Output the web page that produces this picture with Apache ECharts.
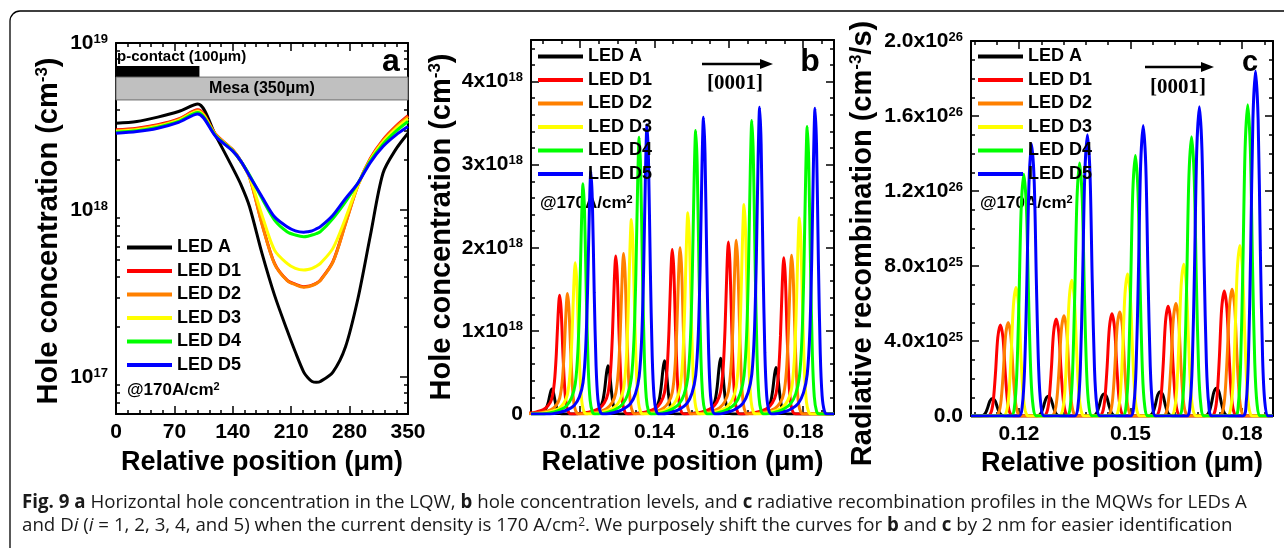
<!DOCTYPE html>
<html>
<head>
<meta charset="utf-8">
<title>Fig. 9</title>
<script src="https://cdn.jsdelivr.net/npm/echarts@6.0.0/dist/echarts.min.js"></script>
<style>
  html, body { margin: 0; padding: 0; background: #fff; }
  #fig { width: 1284px; height: 548px; }
</style>
</head>
<body>
<div id="fig"></div>
<script>
var names = ['LED A', 'LED D1', 'LED D2', 'LED D3', 'LED D4', 'LED D5']
var colors = ['#000000', '#ff0000', '#ff8000', '#ffff00', '#00ff00', '#0000ff']

// (a) hole concentration along the last QW, cm^-3
var lateralPos = [0, 25, 50, 75, 98, 120, 140, 150, 160, 175, 190, 205, 215, 225, 230, 235, 240, 245, 260, 275, 290, 305, 320, 335, 350]
var lateralA  = [3.31e18, 3.39e18, 3.60e18, 3.89e18, 4.31e18, 2.75e18, 1.78e18, 1.41e18, 1.05e18, 5.50e17, 3.09e17, 1.91e17, 1.41e17, 1.07e17, 9.9e16, 9.4e16, 9.3e16, 9.4e16, 1.07e17, 1.51e17, 2.95e17, 7.08e17, 1.66e18, 2.29e18, 2.88e18]
var lateralD1 = [3.02e18, 3.09e18, 3.24e18, 3.51e18, 3.98e18, 2.82e18, 2.29e18, 1.95e18, 1.58e18, 8.3e17, 4.79e17, 3.80e17, 3.59e17, 3.47e17, 3.49e17, 3.55e17, 3.64e17, 3.80e17, 4.90e17, 8.3e17, 1.41e18, 2.04e18, 2.63e18, 3.16e18, 3.67e18]
var lateralD2 = [2.99e18, 3.06e18, 3.21e18, 3.48e18, 3.94e18, 2.80e18, 2.28e18, 1.94e18, 1.57e18, 8.2e17, 4.75e17, 3.78e17, 3.57e17, 3.45e17, 3.47e17, 3.53e17, 3.62e17, 3.78e17, 4.87e17, 8.2e17, 1.40e18, 2.02e18, 2.60e18, 3.12e18, 3.62e18]
var lateralD3 = [2.95e18, 3.02e18, 3.17e18, 3.44e18, 3.89e18, 2.78e18, 2.27e18, 1.94e18, 1.58e18, 9.3e17, 5.75e17, 4.79e17, 4.47e17, 4.37e17, 4.40e17, 4.47e17, 4.60e17, 4.79e17, 5.89e17, 8.9e17, 1.41e18, 2.00e18, 2.55e18, 3.05e18, 3.52e18]
var lateralD4 = [2.92e18, 2.98e18, 3.13e18, 3.39e18, 3.83e18, 2.76e18, 2.26e18, 1.95e18, 1.62e18, 1.17e18, 8.7e17, 7.41e17, 7.08e17, 6.92e17, 6.97e17, 7.08e17, 7.22e17, 7.41e17, 8.9e17, 1.12e18, 1.45e18, 1.97e18, 2.48e18, 2.95e18, 3.39e18]
var lateralD5 = [2.88e18, 2.95e18, 3.09e18, 3.35e18, 3.76e18, 2.74e18, 2.25e18, 1.95e18, 1.60e18, 1.20e18, 9.1e17, 7.94e17, 7.50e17, 7.36e17, 7.41e17, 7.50e17, 7.70e17, 7.94e17, 9.3e17, 1.17e18, 1.45e18, 1.93e18, 2.40e18, 2.80e18, 3.16e18]

// (b) hole concentration, peak of each QW (cm^-3); positions are for LED A
var qwPosB = [0.1124, 0.1275, 0.1427, 0.1578, 0.1727]
var peakB_A  = [3.0e17, 5.8e17, 6.4e17, 6.7e17, 5.6e17]
var peakB_D1 = [1.43e18, 1.90e18, 1.98e18, 2.07e18, 1.88e18]
var peakB_D2 = [1.45e18, 1.93e18, 2.00e18, 2.09e18, 1.91e18]
var peakB_D3 = [1.82e18, 2.34e18, 2.42e18, 2.52e18, 2.36e18]
var peakB_D4 = [2.77e18, 3.33e18, 3.41e18, 3.53e18, 3.46e18]
var peakB_D5 = [2.92e18, 3.48e18, 3.57e18, 3.69e18, 3.68e18]
// one peak: offset from the top (um) and fraction of the top value
var shapeB_dx = [-0.0110, -0.0080, -0.0062, -0.0045, -0.0031, -0.0021, -0.0014, -0.0009, -0.0004, 0, 0.0004, 0.0009, 0.0014, 0.0019, 0.0025, 0.0032]
var shapeB_k  = [0, 0.008, 0.018, 0.035, 0.07, 0.13, 0.27, 0.5, 0.84, 1, 0.88, 0.5, 0.2, 0.06, 0.01, 0]

// (c) radiative recombination, peak of each QW (cm^-3/s)
var qwPosC = [0.1129, 0.1279, 0.1429, 0.1580, 0.1731]
var peakC_A  = [9.4e24, 1.05e25, 1.17e25, 1.30e25, 1.48e25]
var peakC_D1 = [4.86e25, 5.17e25, 5.46e25, 5.86e25, 6.67e25]
var peakC_D2 = [4.99e25, 5.35e25, 5.55e25, 6.00e25, 6.76e25]
var peakC_D3 = [6.85e25, 7.24e25, 7.57e25, 8.10e25, 9.10e25]
var peakC_D4 = [1.29e26, 1.35e26, 1.39e26, 1.49e26, 1.66e26]
var peakC_D5 = [1.45e26, 1.50e26, 1.55e26, 1.65e26, 1.84e26]
var shapeC_dx = [-0.0034, -0.0025, -0.0019, -0.0013, -0.0007, 0, 0.0007, 0.0013, 0.0019, 0.0025, 0.0034]
var shapeC_k  = [0, 0.04, 0.17, 0.48, 0.86, 1, 0.86, 0.48, 0.17, 0.04, 0]

var curveShift = 0.0021   // curves moved by ~2 nm each

// axis ticks / labels
var xTicksA = [0, 70, 140, 210, 280, 350]
var xTicksB = [0.12, 0.14, 0.16, 0.18]
var xTicksC = [0.12, 0.15, 0.18]
var yTicksB = [0, 1e18, 2e18, 3e18, 4e18]
var yTicksC = [0, 4e25, 8e25, 1.2e26, 1.6e26, 2.0e26]

var FONT = '"Liberation Sans", Arial, sans-serif'
var chart = echarts.init(document.getElementById('fig'))

var frameLine = {color: '#000', width: 2}
var tickLine = {color: '#000', width: 1.5}
var rich = {
  b: {color: '#000', fontFamily: FONT, fontSize: 21, fontWeight: 'bold'},
  s: {color: '#000', fontFamily: FONT, fontSize: 13, fontWeight: 'bold', verticalAlign: 'top'}
}
function nameStyle(size, pad) {
  return {
    color: '#000', fontFamily: FONT, fontSize: size, fontWeight: 'bold', padding: pad || 0,
    rich: {s: {color: '#000', fontFamily: FONT, fontSize: 17, fontWeight: 'bold', verticalAlign: 'top'}}
  }
}

function stepList(lo, hi, step) {
  var out = []
  for (var k = Math.ceil(lo / step - 1e-6); k * step <= hi * (1 + 1e-9); k++) out.push(k * step)
  return out
}

function tickAxis(grid, pos, min, max, values, len, showLine) {
  return {
    gridIndex: grid, type: 'value', position: pos, min: min, max: max,
    axisLine: {show: showLine, onZero: false, lineStyle: frameLine},
    axisTick: {show: true, inside: true, length: len, customValues: values, lineStyle: tickLine},
    axisLabel: {show: false},
    splitLine: {show: false}
  }
}

function labelAxis(grid, pos, min, max, values, fmt, name, gap, size, pad) {
  var ax = tickAxis(grid, pos, min, max, values, 8, true)
  ax.axisLabel = {
    show: true, customValues: values, formatter: fmt, margin: 8, rich: rich,
    color: '#000', fontFamily: FONT, fontSize: 21, fontWeight: 'bold'
  }
  ax.name = name
  ax.nameLocation = 'middle'
  ax.nameGap = gap
  ax.nameTextStyle = nameStyle(size, pad)
  if (pos === 'left') ax.nameRotate = 90
  return ax
}

var xName = 'Relative position (μm)'
var minA = 6e16, maxA = 1e19
var logMinA = Math.log10(minA)
var logMinor = []
;[16, 17, 18].forEach(function (n) {
  for (var k = 2; k <= 9; k++) {
    var v = n + Math.log10(k)
    if (v > logMinA && v < 19) logMinor.push(v)
  }
})

var xAxes = [
  labelAxis(0, 'bottom', 0, 350, xTicksA, function (v) { return String(v) }, xName, 35, 27),
  tickAxis(0, 'top', 0, 350, xTicksA, 8, true),
  tickAxis(0, 'bottom', 0, 350, stepList(0, 350, 14), 4, false),
  tickAxis(0, 'top', 0, 350, stepList(0, 350, 14), 4, false),

  labelAxis(1, 'bottom', 0.1068, 0.1883, xTicksB, function (v) { return v.toFixed(2) }, xName, 35, 27),
  tickAxis(1, 'top', 0.1068, 0.1883, xTicksB, 8, true),
  tickAxis(1, 'bottom', 0.1068, 0.1883, stepList(0.1068, 0.1883, 0.005), 4, false),
  tickAxis(1, 'top', 0.1068, 0.1883, stepList(0.1068, 0.1883, 0.005), 4, false),

  labelAxis(2, 'bottom', 0.1071, 0.1883, xTicksC, function (v) { return v.toFixed(2) }, xName, 34, 27),
  tickAxis(2, 'top', 0.1071, 0.1883, xTicksC, 8, true),
  tickAxis(2, 'bottom', 0.1071, 0.1883, stepList(0.1071, 0.1883, 0.006), 4, false),
  tickAxis(2, 'top', 0.1071, 0.1883, stepList(0.1071, 0.1883, 0.006), 4, false)
]

var yLogA = {
  gridIndex: 0, type: 'log', logBase: 10, position: 'left', min: minA, max: maxA,
  axisLine: {onZero: false, lineStyle: frameLine},
  axisTick: {show: false},
  splitLine: {show: false},
  axisLabel: {
    showMinLabel: false, margin: 8, rich: rich,
    color: '#000', fontFamily: FONT, fontSize: 21, fontWeight: 'bold',
    formatter: function (v) { return '{b|10}{s|' + Math.round(Math.log10(v)) + '}' }
  },
  name: 'Hole concentration (cm{s|-3})', nameLocation: 'middle', nameRotate: 90, nameGap: 53,
  nameTextStyle: nameStyle(29, [0, 5, 0, 0])
}

var yAxes = [
  yLogA,
  tickAxis(0, 'right', logMinA, 19, [17, 18, 19], 8, true),
  tickAxis(0, 'left', logMinA, 19, logMinor, 4, false),
  tickAxis(0, 'right', logMinA, 19, logMinor, 4, false),

  labelAxis(1, 'left', 0, 4.5e18, yTicksB, function (v) {
    return v === 0 ? '0' : '{b|' + Math.round(v / 1e18) + 'x10}{s|18}'
  }, 'Hole concentration (cm{s|-3})', 75, 29),
  tickAxis(1, 'right', 0, 4.5e18, yTicksB, 8, true),
  tickAxis(1, 'left', 0, 4.5e18, stepList(0, 4.5e18, 2e17), 4, false),
  tickAxis(1, 'right', 0, 4.5e18, stepList(0, 4.5e18, 2e17), 4, false),

  labelAxis(2, 'left', 0, 2e26, yTicksC, function (v) {
    if (v === 0) return '0.0'
    if (v >= 1e26) return '{b|' + (v / 1e26).toFixed(1) + 'x10}{s|26}'
    return '{b|' + (v / 1e25).toFixed(1) + 'x10}{s|25}'
  }, 'Radiative recombination (cm{s|-3}/s)', 94, 29, [0, 30, 0, 0]),
  tickAxis(2, 'right', 0, 2e26, yTicksC, 8, true),
  tickAxis(2, 'left', 0, 2e26, stepList(0, 2e26, 1e25), 4, false),
  tickAxis(2, 'right', 0, 2e26, stepList(0, 2e26, 1e25), 4, false)
]

function peakCurve(wells, idx, heights, dx, k, lo, hi) {
  var pts = []
  wells.forEach(function (w, j) {
    var x0 = w + idx * curveShift
    dx.forEach(function (d, m) { pts.push([x0 + d, heights[j] * k[m]]) })
  })
  if (pts[0][0] > lo) pts.unshift([lo, 0])
  if (pts[pts.length - 1][0] < hi) pts.push([hi, 0])
  return pts
}

var lateral = [lateralA, lateralD1, lateralD2, lateralD3, lateralD4, lateralD5]
var peaksB = [peakB_A, peakB_D1, peakB_D2, peakB_D3, peakB_D4, peakB_D5]
var peaksC = [peakC_A, peakC_D1, peakC_D2, peakC_D3, peakC_D4, peakC_D5]

function lineSeries(i, xi, yi, data) {
  return {
    type: 'line', name: names[i], xAxisIndex: xi, yAxisIndex: yi, data: data,
    color: colors[i], showSymbol: false, symbol: 'none', smooth: 0.3,
    lineStyle: {color: colors[i], width: 3}, animation: false, silent: true
  }
}

var series = []
names.forEach(function (n, i) {
  var s = lineSeries(i, 0, 0, lateralPos.map(function (x, j) { return [x, lateral[i][j]] }))
  if (i === 0) {
    // p-contact bar and mesa band
    s.markArea = {
      silent: true,
      data: [
        [{xAxis: 0, yAxis: 7.28e18, itemStyle: {color: '#000'}, label: {show: false}}, {xAxis: 100, yAxis: 6.25e18}],
        [{xAxis: 0, yAxis: 6.25e18, itemStyle: {color: '#c0c0c0', borderColor: '#6e6e6e', borderWidth: 1},
          label: {show: true, position: 'inside', formatter: 'Mesa (350μm)', color: '#000', fontFamily: FONT, fontSize: 16, fontWeight: 'bold'}},
         {xAxis: 350, yAxis: 4.56e18}]
      ]
    }
  }
  series.push(s)
})
names.forEach(function (n, i) {
  series.push(lineSeries(i, 4, 4, peakCurve(qwPosB, i, peaksB[i], shapeB_dx, shapeB_k, 0.1068, 0.1883)))
})
names.forEach(function (n, i) {
  series.push(lineSeries(i, 8, 8, peakCurve(qwPosC, i, peaksC[i], shapeC_dx, shapeC_k, 0.1071, 0.1883)))
})

function legendAt(left, top) {
  return {
    data: names, orient: 'vertical', left: left, top: top, icon: 'rect',
    itemWidth: 45, itemHeight: 4, itemGap: 4.5, padding: 0, selectedMode: false,
    textStyle: {color: '#000', fontFamily: FONT, fontSize: 18, fontWeight: 'bold', lineHeight: 19}
  }
}

function label(x, y, text, font, align, extra) {
  var st = {text: text, font: font, fill: '#000', align: align || 'left', verticalAlign: 'middle',
    textAlign: align || 'left', textVerticalAlign: 'middle'}
  if (extra) st.rich = extra
  return {type: 'text', x: x, y: y, silent: true, style: st}
}
var supRich = {s: {fontFamily: FONT, fontSize: 11, fontWeight: 'bold', fill: '#000', verticalAlign: 'top'}}
var boldFont = function (px) { return 'bold ' + px + 'px "Liberation Sans", Arial, sans-serif' }
var serifFont = 'bold 21px "Liberation Serif", "Times New Roman", serif'

function arrow(x1, x2, y) {
  return [
    {type: 'line', silent: true, shape: {x1: x1, y1: y, x2: x2 - 10, y2: y}, style: {stroke: '#000', lineWidth: 2.5}},
    {type: 'polygon', silent: true, shape: {points: [[x2 - 13, y - 5], [x2, y], [x2 - 13, y + 5]]}, style: {fill: '#000'}}
  ]
}

var capSize = 18.7
var capFamily = '"Open Sans", sans-serif'
var capRich = {
  b: {fontFamily: capFamily, fontSize: capSize, fontWeight: 'bold', fill: '#1a1a1a'},
  i: {fontFamily: capFamily, fontSize: capSize, fontStyle: 'italic', fill: '#1a1a1a'},
  s: {fontFamily: capFamily, fontSize: 12, fill: '#1a1a1a', verticalAlign: 'top'}
}
var capFont = capSize + 'px ' + capFamily
var caption1 = '{b|Fig. 9 a} Horizontal hole concentration in the LQW, {b|b} hole concentration levels, and {b|c} radiative recombination profiles in the MQWs for LEDs A'
var caption2 = 'and D{i|i} ({i|i} = 1, 2, 3, 4, and 5) when the current density is 170 A/cm{s|2}. We purposely shift the curves for {b|b} and {b|c} by 2 nm for easier identification'

var graphics = [
  {type: 'rect', silent: true, shape: {x: 10, y: 11, width: 1320, height: 600, r: 10}, style: {fill: 'none', stroke: '#000', lineWidth: 1.3}},
  label(117, 57, 'p-contact (100μm)', boldFont(15)),
  label(391, 62, 'a', boldFont(32), 'center'),
  label(127, 390, '@170A/cm{s|2}', boldFont(17), 'left', supRich),
  label(810, 62, 'b', boldFont(32), 'center'),
  label(735, 84, '[0001]', serifFont, 'center'),
  label(540, 203, '@170A/cm{s|2}', boldFont(17), 'left', supRich),
  label(1250, 63, 'c', boldFont(29), 'center'),
  label(1178, 88, '[0001]', serifFont, 'center'),
  label(980, 203, '@170A/cm{s|2}', boldFont(17), 'left', supRich),
  {type: 'text', x: 22, y: 503, silent: true, style: {text: caption1, font: capFont, fill: '#1a1a1a', verticalAlign: 'middle', textVerticalAlign: 'middle', rich: capRich}},
  {type: 'text', x: 22, y: 526, silent: true, style: {text: caption2, font: capFont, fill: '#1a1a1a', verticalAlign: 'middle', textVerticalAlign: 'middle', rich: capRich}}
].concat(arrow(702, 773, 64), arrow(1145, 1214, 67))

chart.setOption({
  animation: false,
  backgroundColor: '#fff',
  grid: [
    {left: 116, top: 43, width: 292, height: 371, outerBoundsMode: 'none'},
    {left: 531, top: 40, width: 303, height: 374, outerBoundsMode: 'none'},
    {left: 971, top: 41, width: 302, height: 375, outerBoundsMode: 'none'}
  ],
  legend: [legendAt(127, 238), legendAt(538, 47), legendAt(978, 47)],
  xAxis: xAxes,
  yAxis: yAxes,
  series: series,
  graphic: graphics
})
</script>
</body>
</html>
